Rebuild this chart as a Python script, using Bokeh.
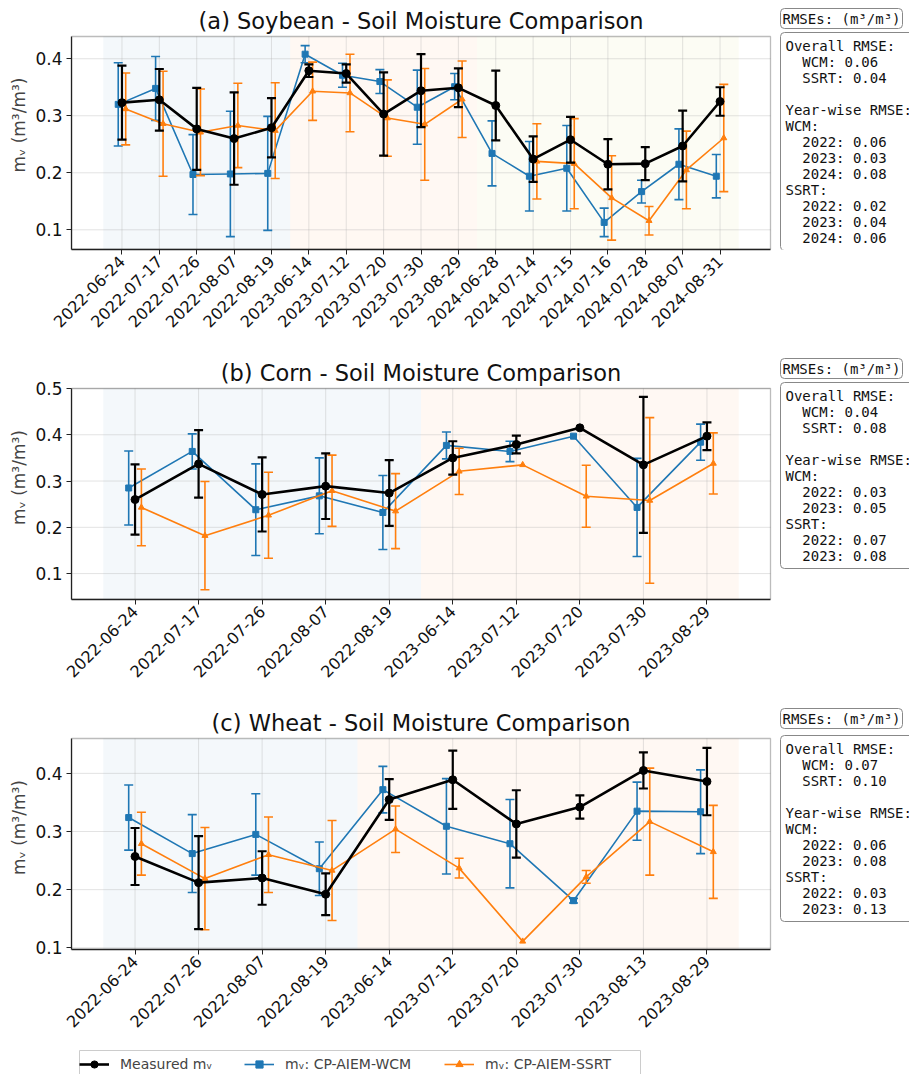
import math
import numpy as np
from bokeh.plotting import figure
from bokeh.models import (FixedTicker, BoxAnnotation, Label, Legend, LegendItem, Range1d)
from bokeh.layouts import column
from bokeh.embed import file_html
from bokeh.resources import INLINE

NaN = float("nan")

# ---------------- data ----------------
soy_dates = ["2022-06-24", "2022-07-17", "2022-07-26", "2022-08-07", "2022-08-19",
             "2023-06-14", "2023-07-12", "2023-07-20", "2023-07-30", "2023-08-29",
             "2024-06-28", "2024-07-14", "2024-07-15", "2024-07-16", "2024-07-28",
             "2024-08-07", "2024-08-31"]
soy_meas = [0.323, 0.328, 0.277, 0.260, 0.279, 0.379, 0.374, 0.303, 0.344, 0.349,
            0.318, 0.224, 0.258, 0.215, 0.216, 0.247, 0.325]
soy_meas_err = [0.065, 0.054, 0.072, 0.081, 0.052, 0.011, 0.016, 0.073, 0.064, 0.034,
                0.061, 0.040, 0.040, 0.044, 0.029, 0.062, 0.025]
soy_wcm = [0.320, 0.348, 0.197, 0.198, 0.199, 0.408, 0.371, 0.360, 0.315, 0.351,
           0.234, 0.194, 0.208, 0.113, 0.167, 0.215, 0.194]
soy_wcm_err = [0.073, 0.056, 0.070, 0.110, 0.100, 0.015, 0.021, 0.021, 0.065, 0.023,
               0.057, 0.061, 0.075, 0.025, 0.020, 0.062, 0.038]
soy_ssrt = [0.312, 0.286, 0.271, 0.283, 0.274, 0.343, 0.340, 0.296, 0.285, 0.329,
            NaN, 0.220, 0.216, 0.156, 0.116, 0.205, 0.261]
soy_ssrt_err = [0.063, 0.092, 0.076, 0.074, 0.084, 0.051, 0.068, 0.067, 0.098, 0.067,
                NaN, 0.066, 0.079, 0.074, 0.025, 0.068, 0.094]
soy_rmse_overall = [0.06, 0.04]          # WCM, SSRT
soy_rmse_wcm_year = [0.06, 0.03, 0.08]
soy_rmse_ssrt_year = [0.02, 0.04, 0.06]

corn_dates = ["2022-06-24", "2022-07-17", "2022-07-26", "2022-08-07", "2022-08-19",
              "2023-06-14", "2023-07-12", "2023-07-20", "2023-07-30", "2023-08-29"]
corn_meas = [0.260, 0.337, 0.271, 0.289, 0.274, 0.350, 0.379, 0.415, 0.335, 0.397]
corn_meas_err = [0.076, 0.073, 0.080, 0.071, 0.071, 0.036, 0.019, 0.0, 0.147, 0.030]
corn_wcm = [0.285, 0.364, 0.238, 0.268, 0.232, 0.377, 0.364, 0.397, 0.243, 0.384]
corn_wcm_err = [0.080, 0.038, 0.099, 0.082, 0.080, 0.029, 0.022, 0.0, 0.106, 0.039]
corn_ssrt = [0.243, 0.182, 0.226, 0.279, 0.235, 0.321, 0.335, 0.267, 0.258, 0.338]
corn_ssrt_err = [0.083, 0.117, 0.093, 0.077, 0.081, 0.050, 0.0, 0.067, 0.179, 0.066]
corn_rmse_overall = [0.04, 0.08]
corn_rmse_wcm_year = [0.03, 0.05]
corn_rmse_ssrt_year = [0.07, 0.08]

wheat_dates = ["2022-06-24", "2022-07-26", "2022-08-07", "2022-08-19", "2023-06-14",
               "2023-07-12", "2023-07-20", "2023-07-30", "2023-08-13", "2023-08-29"]
wheat_meas = [0.257, 0.212, 0.220, 0.192, 0.355, 0.389, 0.313, 0.342, 0.405, 0.386]
wheat_meas_err = [0.049, 0.080, 0.046, 0.036, 0.035, 0.050, 0.058, 0.020, 0.031, 0.058]
wheat_wcm = [0.324, 0.262, 0.295, 0.236, 0.372, 0.309, 0.279, 0.181, 0.335, 0.334]
wheat_wcm_err = [0.056, 0.067, 0.070, 0.046, 0.040, 0.082, 0.076, 0.004, 0.050, 0.072]
wheat_ssrt = [0.279, 0.219, 0.260, 0.233, 0.304, 0.237, 0.111, 0.222, 0.317, 0.265]
wheat_ssrt_err = [0.054, 0.088, 0.065, 0.086, 0.040, 0.017, 0.0, 0.011, 0.092, 0.080]
wheat_rmse_overall = [0.07, 0.10]
wheat_rmse_wcm_year = [0.06, 0.08]
wheat_rmse_ssrt_year = [0.03, 0.13]

titles = ["(a) Soybean - Soil Moisture Comparison",
          "(b) Corn - Soil Moisture Comparison",
          "(c) Wheat - Soil Moisture Comparison"]
y_ranges = [(0.0655, 0.439), (0.044, 0.5), (0.097, 0.46)]
y_ticks = [[0.1, 0.2, 0.3, 0.4], [0.1, 0.2, 0.3, 0.4, 0.5], [0.1, 0.2, 0.3, 0.4]]
series_names = ["Measured m\u1d65", "m\u1d65: CP-AIEM-WCM", "m\u1d65: CP-AIEM-SSRT"]

# ---------------- style / layout ----------------
FONT = "DejaVu Sans"
MONO = "DejaVu Sans Mono"
BLUE = "#1f77b4"
ORANGE = "#ff7f0e"
year_colors = {"2022": BLUE, "2023": ORANGE, "2024": "#bcbd22"}
W = 909
BL = 71            # left border (y axis)
PLOT_W = 699       # width of the boxed plot area
# (fig height, plot top px, plot bottom px, small box top px, big box top px)
rows_layout = [(355, 36, 249, 8, 32), (350, 33, 244, 3, 27), (341, 33, 244, 3, 30)]
NB = "\u00a0"


def rmse_text(overall, wcm_year, ssrt_year, years):
    ind = NB * 2
    lines = ["Overall RMSE:", ind + "WCM: %.2f" % overall[0], ind + "SSRT: %.2f" % overall[1],
             NB, "Year-wise RMSE:", "WCM:"]
    lines += [ind + "%s: %.2f" % (y, v) for y, v in zip(years, wcm_year)]
    lines += ["SSRT:"]
    lines += [ind + "%s: %.2f" % (y, v) for y, v in zip(years, ssrt_year)]
    return "\n".join(lines)


def draw_series(p, xs, ys, errs, color, marker, msize, lw, elw, cap):
    xs = np.array(xs, dtype=float)
    ys = np.array(ys, dtype=float)
    errs = np.array(errs, dtype=float)
    p.line(xs, ys, line_color=color, line_width=lw)
    ok = ~np.isnan(ys)
    eb = ok & (np.nan_to_num(errs) > 0)
    p.segment(x0=xs[eb], y0=ys[eb] - errs[eb], x1=xs[eb], y1=ys[eb] + errs[eb],
              line_color=color, line_width=elw)
    p.scatter(np.concatenate([xs[eb], xs[eb]]),
              np.concatenate([ys[eb] - errs[eb], ys[eb] + errs[eb]]),
              marker="dash", size=cap, line_color=color, line_width=elw)
    p.scatter(xs[ok], ys[ok], marker=marker, size=msize, fill_color=color, line_color=color)


def make_panel(k, dates, meas, meas_err, wcm, wcm_err, ssrt, ssrt_err,
               overall, wcm_year, ssrt_year):
    H, pt, pb, sb_top, lb_top = rows_layout[k]
    n = len(dates)
    x0, x1 = -0.5 - 0.05 * n, n - 0.5 + 0.05 * n
    sx = (x1 - x0) / PLOT_W
    x_end = x1 + (W - BL - PLOT_W) * sx
    y0, y1 = y_ranges[k]
    sy = (y1 - y0) / (pb - pt)
    y_end = y1 + pt * sy

    p = figure(width=W, height=H, output_backend="svg", toolbar_location=None,
               x_range=Range1d(x0, x_end), y_range=Range1d(y0, y_end),
               min_border_left=BL, min_border_right=0, min_border_top=0,
               min_border_bottom=H - pb)
    p.background_fill_color = "white"
    p.border_fill_color = "white"
    p.outline_line_color = None
    p.grid.visible = False

    years = []
    for d in dates:
        if d[:4] not in years:
            years.append(d[:4])
    for yr in years:
        idx = [i for i, d in enumerate(dates) if d[:4] == yr]
        p.add_layout(BoxAnnotation(left=idx[0] - 0.5, right=idx[-1] + 0.5, bottom=y0, top=y1,
                                   fill_color=year_colors[yr], fill_alpha=0.05,
                                   line_color=None, level="underlay"))

    # axes
    xt = list(range(n))
    p.xaxis.ticker = FixedTicker(ticks=xt)
    p.xaxis.major_label_overrides = {i: d for i, d in enumerate(dates)}
    p.xaxis.major_label_orientation = math.pi / 4
    p.xaxis.bounds = (x0, x1)
    p.yaxis.ticker = FixedTicker(ticks=y_ticks[k])
    p.yaxis.bounds = (y0, y1)
    p.yaxis.axis_label = "m\u1d65 (m\u00b3/m\u00b3)"
    for ax in [p.xaxis, p.yaxis]:
        ax.major_label_text_font = FONT
        ax.major_label_text_color = "#111111"
        ax.axis_line_color = "#222222"
        ax.axis_line_width = 1.3
        ax.major_tick_line_color = "#222222"
        ax.major_tick_out = 5
        ax.major_tick_in = 0
        ax.minor_tick_line_color = None
        ax.major_label_standoff = 4
    p.xaxis.major_label_text_font_size = "16px"
    p.yaxis.major_label_text_font_size = "17px"
    p.yaxis.axis_label_text_font = FONT
    p.yaxis.axis_label_text_font_size = "17px"
    p.yaxis.axis_label_text_font_style = "normal"
    p.yaxis.axis_label_standoff = 3

    # grid lines limited to the plot box
    p.segment(x0=xt, y0=[y0] * n, x1=xt, y1=[y1] * n, line_color="#b0b0b0",
              line_alpha=0.35, line_width=1)
    yt = y_ticks[k]
    p.segment(x0=[x0] * len(yt), y0=yt, x1=[x1] * len(yt), y1=yt, line_color="#b0b0b0",
              line_alpha=0.35, line_width=1)

    draw_series(p, [x - 0.1 for x in xt], wcm, wcm_err, BLUE, "square", 6, 1.6, 1.6, 9)
    draw_series(p, [x + 0.1 for x in xt], ssrt, ssrt_err, ORANGE, "triangle", 6, 1.6, 1.6, 9)
    draw_series(p, xt, meas, meas_err, "black", "circle", 8, 2.6, 2.2, 9)

    # plot box border
    p.add_layout(BoxAnnotation(left=x0, right=x1, bottom=y0, top=y1, fill_color=None,
                               line_color="#222222", line_width=1.3, level="overlay"))

    # title
    p.add_layout(Label(x=(x0 + x1) / 2, y=y1 + 16 * sy, text=titles[k],
                       text_align="center", text_baseline="alphabetic",
                       text_font=FONT, text_font_size="22.5px", text_color="#111111"))
    # RMSE boxes
    bx = x1 + 10 * sx
    p.add_layout(Label(x=bx, y=y_end - sb_top * sy, text="RMSEs: (m\u00b3/m\u00b3)",
                       text_align="left", text_baseline="top", text_font=MONO,
                       text_font_size="14px", text_color="#111111",
                       background_fill_color="white", border_line_color="#888888",
                       border_line_width=1, padding=2, border_radius=4))
    p.add_layout(Label(x=bx, y=y_end - lb_top * sy,
                       text=rmse_text(overall, wcm_year, ssrt_year, years),
                       text_align="left", text_baseline="top", text_font=MONO,
                       text_font_size="14px", text_color="#111111", text_line_height=1.0,
                       background_fill_color="white", border_line_color="#888888",
                       border_line_width=1, padding=5, border_radius=4))
    return p


p1 = make_panel(0, soy_dates, soy_meas, soy_meas_err, soy_wcm, soy_wcm_err,
                soy_ssrt, soy_ssrt_err, soy_rmse_overall, soy_rmse_wcm_year,
                soy_rmse_ssrt_year)
p2 = make_panel(1, corn_dates, corn_meas, corn_meas_err, corn_wcm, corn_wcm_err,
                corn_ssrt, corn_ssrt_err, corn_rmse_overall, corn_rmse_wcm_year,
                corn_rmse_ssrt_year)
p3 = make_panel(2, wheat_dates, wheat_meas, wheat_meas_err, wheat_wcm, wheat_wcm_err,
                wheat_ssrt, wheat_ssrt_err, wheat_rmse_overall, wheat_rmse_wcm_year,
                wheat_rmse_ssrt_year)

# legend strip (x in page pixels; the frame starts where the plots' frames start)
LEG_H = 28
lg = figure(width=W, height=LEG_H, output_backend="svg", toolbar_location=None,
            x_range=Range1d(BL, W), y_range=Range1d(0, LEG_H),
            x_axis_location=None, y_axis_location=None, min_border=0,
            min_border_left=BL, min_border_right=0)
lg.grid.visible = False
lg.outline_line_color = None
lg.background_fill_color = "white"
lg.border_fill_color = "white"
lg.quad(left=[79], right=[640], bottom=[-10], top=[LEG_H - 4], fill_color="white",
        line_color="#cccccc", line_width=1)
legend_x = [79, 244, 444]
for name, color, marker, msize, lw, lx in [
        (series_names[0], "black", "circle", 8, 2.6, legend_x[0]),
        (series_names[1], BLUE, "square", 6, 1.6, legend_x[1]),
        (series_names[2], ORANGE, "triangle", 6, 1.6, legend_x[2])]:
    # proxies drawn outside the visible strip, only used for the legend glyphs
    rl = lg.line(x=[-20, -10], y=[-20, -20], line_color=color, line_width=lw)
    rs = lg.scatter(x=[-20], y=[-20], marker=marker, size=msize, fill_color=color,
                    line_color=color)
    lgd = Legend(items=[LegendItem(label=name, renderers=[rl, rs])], location=(lx - BL, 1),
                 orientation="horizontal", label_text_font=FONT, label_text_font_size="14px",
                 glyph_width=30, glyph_height=18, label_standoff=11, spacing=0,
                 padding=5, margin=0, border_line_color=None,
                 background_fill_alpha=0.0)
    lg.add_layout(lgd, "center")

layout = column(p1, p2, p3, lg, spacing=0)
open("out.html", "w").write(file_html(layout, INLINE))
